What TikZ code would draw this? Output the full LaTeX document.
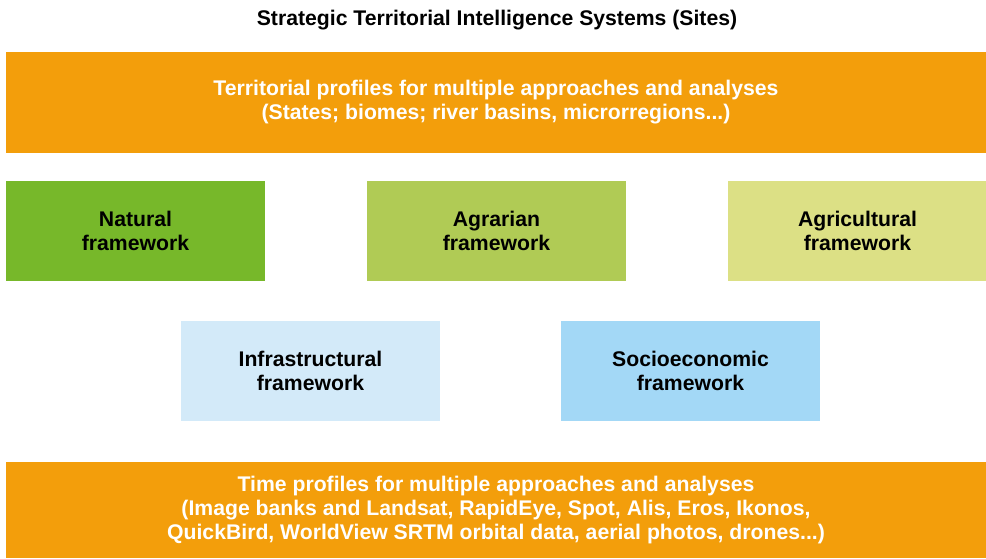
\documentclass[tikz,border=0pt]{standalone}
\usepackage{fontspec}
\setmainfont{Liberation Sans}
\usetikzlibrary{positioning}

\definecolor{siteorange}{HTML}{F39E0B}
\definecolor{natgreen}{HTML}{77B82A}
\definecolor{agrgreen}{HTML}{B0CB55}
\definecolor{agcgreen}{HTML}{DCE085}
\definecolor{infblue}{HTML}{D3EAF9}
\definecolor{socblue}{HTML}{A3D8F6}

\begin{document}
\begin{tikzpicture}[
  x=0.75pt, y=-0.75pt,
  profile/.style={fill=siteorange, minimum width=735pt, inner sep=0pt, align=center,
    text=white, font=\bfseries\fontsize{15.9}{18}\selectfont},
  frame/.style={minimum width=194.25pt, minimum height=75pt, inner sep=0pt, align=center,
    font=\bfseries\fontsize{15.9}{18}\selectfont}
]
\useasboundingbox (0,0) rectangle (986,558);

% Title
\node[font=\bfseries\fontsize{15.9}{18}\selectfont] (title) at (497,20) {Strategic Territorial Intelligence Systems (Sites)};

% Territorial profiles (top)
\node[profile, minimum height=75.75pt] (terr) at (496,102.5) {Territorial profiles for multiple approaches and analyses\\(States; biomes; river basins, microrregions...)};

% Frameworks, first row
\node[frame, fill=natgreen] (natural) at (135.5,231) {Natural\\framework};
\node[frame, fill=agrgreen] (agrarian) at (496.5,231) {Agrarian\\framework};
\node[frame, fill=agcgreen] (agricult) at (857.5,231) {Agricultural\\framework};

% Frameworks, second row
\node[frame, fill=infblue] (infra) at (310.5,371) {Infrastructural\\framework};
\node[frame, fill=socblue] (socio) at (690.5,371) {Socioeconomic\\framework};

% Time profiles (bottom)
\node[profile, minimum height=72pt] (time) at (496,510) {Time profiles for multiple approaches and analyses\\(Image banks and Landsat, RapidEye, Spot, Alis, Eros, Ikonos,\\QuickBird, WorldView SRTM orbital data, aerial photos, drones...)};

\end{tikzpicture}
\end{document}
